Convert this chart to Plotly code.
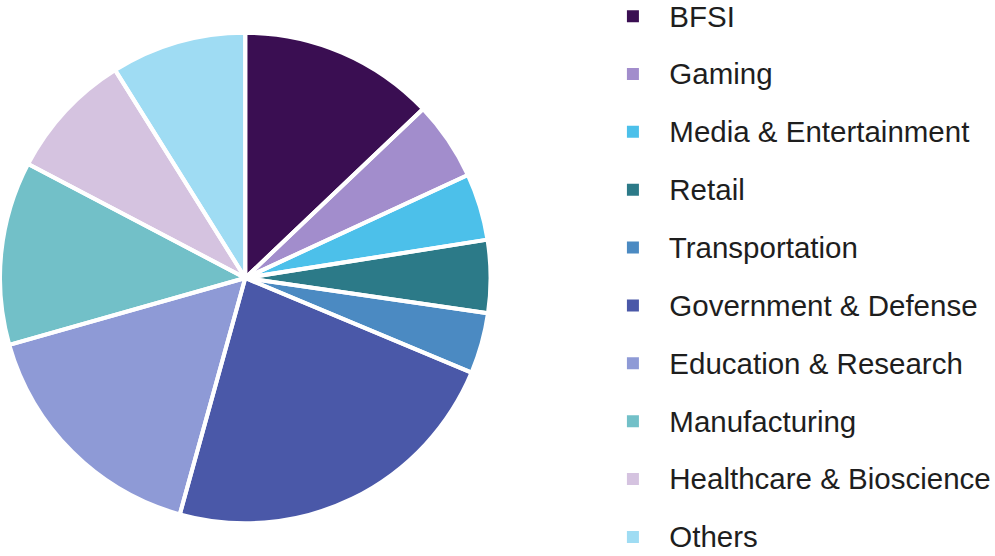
import plotly.graph_objects as go

categories = ["BFSI", "Gaming", "Media & Entertainment", "Retail", "Transportation",
              "Government & Defense", "Education & Research", "Manufacturing",
              "Healthcare & Bioscience", "Others"]
shares = [12.9, 5.2, 4.4, 4.8, 4.0, 23.0, 16.3, 12.1, 8.4, 8.9]
colors = ["#3a0e52", "#a28dcc", "#4cc0ea", "#2c7a88", "#4b8ac2",
          "#4a58a8", "#8e9ad6", "#72c0c8", "#d5c3e0", "#9fdcf3"]

labels = [f'<span style="font-size:29.5px;baseline-shift:6px">  {c}</span>' for c in categories]
domain = dict(x=[0, 0.493], y=[0, 1])

fig = go.Figure()
# filled slices (legend swatches come from this trace)
fig.add_trace(go.Pie(
    labels=labels,
    values=shares,
    sort=False,
    direction="clockwise",
    rotation=0,
    textinfo="none",
    hoverinfo="label+percent",
    marker=dict(colors=colors, line=dict(color="white", width=0)),
    domain=domain,
))
# white separators between slices
fig.add_trace(go.Pie(
    labels=labels,
    values=shares,
    sort=False,
    direction="clockwise",
    rotation=0,
    textinfo="none",
    hoverinfo="skip",
    showlegend=False,
    marker=dict(colors=["rgba(0,0,0,0)"] * len(categories), line=dict(color="white", width=4)),
    domain=domain,
))

fig.update_layout(
    width=995, height=556,
    margin=dict(l=0, r=0, t=0, b=0, autoexpand=False),
    paper_bgcolor="white",
    plot_bgcolor="white",
    showlegend=True,
    legend=dict(
        x=0.616, y=1.032, xanchor="left", yanchor="top",
        maxheight=800,
        font=dict(family="Liberation Sans, Arial, sans-serif", size=42.2, color="#1e1e1e"),
        bgcolor="rgba(0,0,0,0)",
    ),
)

fig.write_html("out.html", config={"displayModeBar": False},
               post_script="document.body.style.margin='0';")
